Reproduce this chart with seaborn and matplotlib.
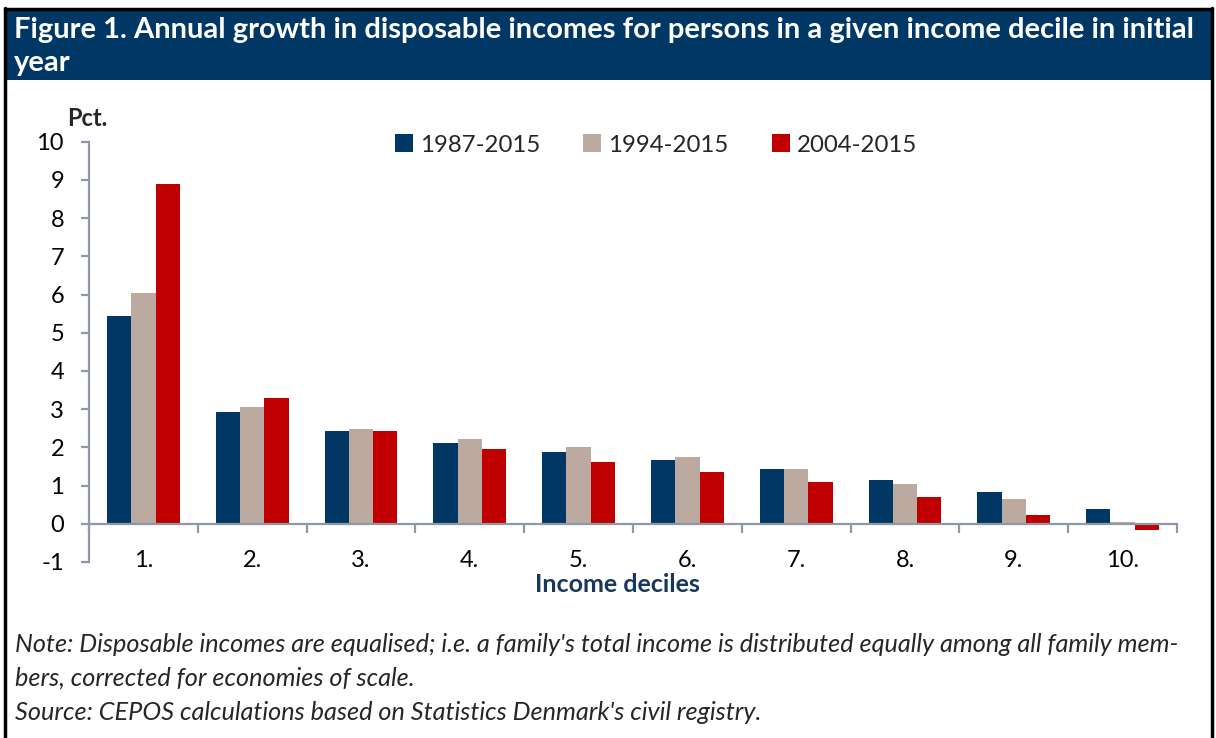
import numpy as np
import pandas as pd
import matplotlib
matplotlib.use('Agg')
import matplotlib.pyplot as plt
import seaborn as sns
from matplotlib.patches import Rectangle
from matplotlib.lines import Line2D
from matplotlib.ticker import FixedLocator

# ---- data ----
deciles = ['1.', '2.', '3.', '4.', '5.', '6.', '7.', '8.', '9.', '10.']
periods = ['1987-2015', '1994-2015', '2004-2015']
growth_1987 = [5.44, 2.93, 2.44, 2.12, 1.88, 1.67, 1.44, 1.14, 0.82, 0.38]
growth_1994 = [6.05, 3.05, 2.49, 2.22, 2.00, 1.75, 1.44, 1.05, 0.64, 0.05]
growth_2004 = [8.88, 3.28, 2.43, 1.95, 1.63, 1.36, 1.09, 0.70, 0.24, -0.17]
yticks = list(range(-1, 11))

colors = ['#003764', '#BCAAA0', '#C00000']
navy = '#003764'
axis_grey = '#8E98A8'

df = pd.DataFrame({
    'decile': deciles * 3,
    'period': [p for p in periods for _ in deciles],
    'value': growth_1987 + growth_1994 + growth_2004,
})

sns.set_theme(style='white')
plt.rcParams['font.family'] = ['Lato', 'DejaVu Sans']
plt.rcParams['axes.unicode_minus'] = False

W, H = 1216, 738
fig = plt.figure(figsize=(W / 100, H / 100), dpi=100)
ax = fig.add_axes([89 / W, 1 - 562 / H, (1177 - 89) / W, (562 - 141.7) / H])

sns.barplot(data=df, x='decile', y='value', hue='period', palette=colors,
            width=0.67, saturation=1, linewidth=0, ax=ax)

ax.set_xlim(-0.5, len(deciles) - 0.5)
ax.set_ylim(-1, 10)
ax.set_yticks(yticks)
ax.set_xlabel('')
ax.set_ylabel('')

# spines
for s in ['top', 'right']:
    ax.spines[s].set_visible(False)
ax.spines['bottom'].set_position(('data', 0))
for s in ['left', 'bottom']:
    ax.spines[s].set_color(axis_grey)
    ax.spines[s].set_linewidth(1.6)

ax.xaxis.set_minor_locator(FixedLocator(np.arange(-0.5, len(deciles), 1.0)))
ax.tick_params(axis='x', which='major', length=0, pad=19, labelsize=17, labelcolor='black')
ax.tick_params(axis='x', which='minor', length=6.5, width=1.6, color=axis_grey, direction='out', bottom=True)
ax.tick_params(axis='y', which='major', length=6, width=1.6, color=axis_grey, direction='out',
               pad=12, labelsize=17, labelcolor='black', left=True)

# legend
handles, labels = ax.get_legend_handles_labels()
ax.legend_.remove()
fig.legend(handles, labels, loc='center', bbox_to_anchor=(656 / W, 1 - 145 / H),
           ncol=3, frameon=False, fontsize=17.3, handlelength=0.75, handleheight=0.75,
           handletextpad=0.3, columnspacing=1.8)

# header band and frame
fig.patches.append(Rectangle((5 / W, 1 - 80 / H), (1211 - 5) / W, 70 / H,
                             transform=fig.transFigure, facecolor=navy, edgecolor='none', zorder=0))
for xs, ys in [([5, 5], [8, 738]), ([1212, 1212], [8, 738]), ([5, 1212], [8.5, 8.5])]:
    fig.add_artist(Line2D([x / W for x in xs], [1 - y / H for y in ys],
                          transform=fig.transFigure, color='black', linewidth=2.5))

fig.text(14 / W, 1 - 30 / H,
         'Figure 1. Annual growth in disposable incomes for persons in a given income decile in initial',
         color='white', fontsize=21, fontweight='bold', ha='left', va='center')
fig.text(14 / W, 1 - 63 / H, 'year', color='white', fontsize=21, fontweight='bold',
         ha='left', va='center')

fig.text(87.5 / W, 1 - 119 / H, 'Pct.', fontsize=17, fontweight='bold', ha='center', va='center')
fig.text(617 / W, 1 - 585 / H, 'Income deciles', fontsize=18, fontweight='bold', color='#17375E',
         ha='center', va='center')

notes = [
    "Note: Disposable incomes are equalised; i.e. a family's total income is distributed equally among all family mem-",
    "bers, corrected for economies of scale.",
    "Source: CEPOS calculations based on Statistics Denmark's civil registry.",
]
for txt, y in zip(notes, [644, 678, 713]):
    fig.text(15 / W, 1 - y / H, txt, fontsize=18.2, style='italic', ha='left', va='center')

fig.savefig('out.png', dpi=100)
